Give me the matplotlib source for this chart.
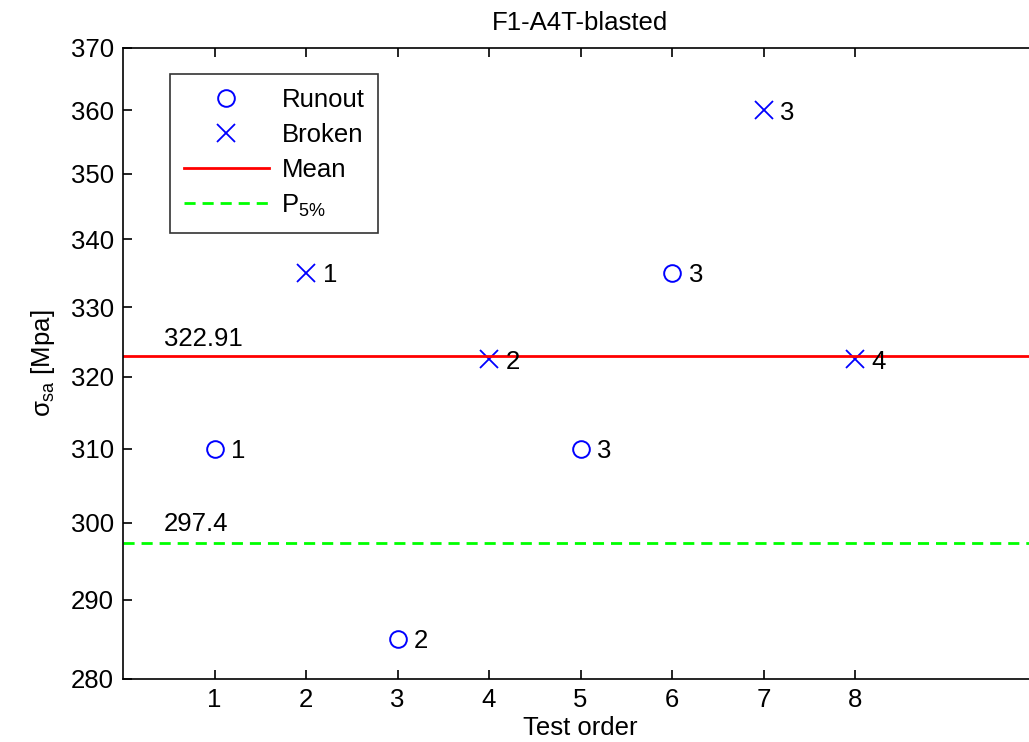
import matplotlib
matplotlib.use("Agg")
import matplotlib.pyplot as plt
from matplotlib.ticker import FixedLocator, FixedFormatter, NullLocator

plt.rcParams['font.family'] = ['Liberation Sans', 'DejaVu Sans']
plt.rcParams['mathtext.fontset'] = 'custom'
plt.rcParams['mathtext.rm'] = 'Liberation Sans'
plt.rcParams['mathtext.it'] = 'Liberation Sans'

# staircase test data
runout_x = [1, 3, 5, 6]
runout_y = [310, 285, 310, 335]
runout_lbl = ["1", "2", "3", "3"]
broken_x = [2, 4, 7, 8]
broken_y = [335, 322.5, 360, 322.5]
broken_lbl = ["1", "2", "3", "4"]
mean_val = 322.91
p5_val = 297.4
yticks = list(range(280, 371, 10))

FS = 18.5

fig = plt.figure(figsize=(10.29, 7.42), dpi=100)
ax = fig.add_axes([123/1029, 1 - 679/742, (1038-123)/1029, (679-48)/742])
ax.set_yscale('log')

ax.plot(runout_x, runout_y, 'o', color='blue', mfc='none', ms=12, mew=1.4, label='Runout')
ax.plot(broken_x, broken_y, 'x', color='blue', ms=13, mew=1.3, label='Broken')
ax.axhline(mean_val, color='red', lw=2, label='Mean')
ax.axhline(p5_val, color='#00ff00', lw=2, ls=(0, (4, 2.5)), label='P$_{5\%}$')

for x, y, s in zip(runout_x + broken_x, runout_y + broken_y, runout_lbl + broken_lbl):
    ax.annotate(s, (x, y), xytext=(12, 0), textcoords='offset points',
                fontsize=FS, va='center_baseline', ha='left')

ax.annotate(f"{mean_val:.2f}", (0.45, mean_val), xytext=(0, 7), textcoords='offset points',
            fontsize=FS, va='baseline')
ax.annotate(f"{p5_val:.1f}", (0.45, p5_val), xytext=(0, 8), textcoords='offset points',
            fontsize=FS, va='baseline')

ax.set_xlim(0, 10)
ax.set_ylim(280, 370)
ax.set_xticks(range(1, 9))
ax.yaxis.set_major_locator(FixedLocator(yticks))
ax.yaxis.set_major_formatter(FixedFormatter([str(v) for v in yticks]))
ax.yaxis.set_minor_locator(NullLocator())
ax.tick_params(direction='in', length=6.5, width=1.2, labelsize=FS, right=True, top=True, pad=6.5)
for sp in ax.spines.values():
    sp.set_linewidth(1.2)
ax.set_xlabel('Test order', fontsize=FS, labelpad=3)
ax.set_ylabel(r'$\sigma_{sa}$ [Mpa]', fontsize=FS, labelpad=10)
ax.set_title('F1-A4T-blasted', fontsize=FS, pad=13)

leg = ax.legend(loc='upper left', bbox_to_anchor=(0.051, 0.959), fontsize=FS, frameon=True,
                fancybox=False, edgecolor='black', handlelength=3.3, borderpad=0.55,
                labelspacing=0.42, handletextpad=0.5, borderaxespad=0)
leg.get_frame().set_linewidth(1.2)

fig.savefig('out.png', dpi=100)
